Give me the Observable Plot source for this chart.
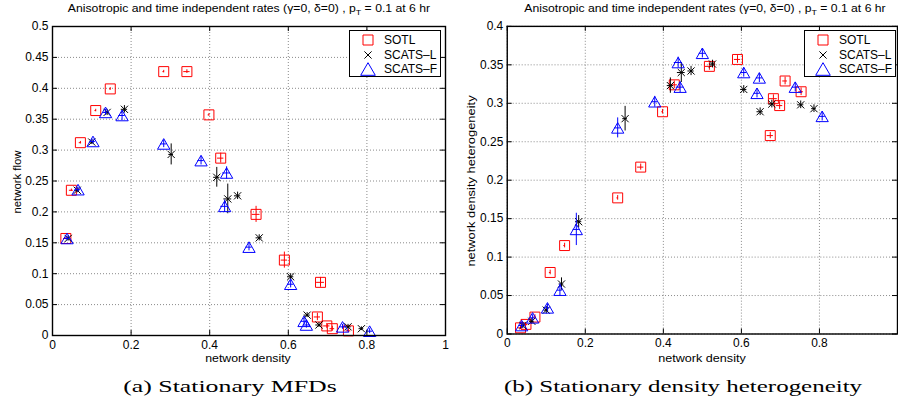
<!DOCTYPE html>
<html>
<head>
<meta charset="utf-8">
<script src="https://cdn.jsdelivr.net/npm/d3@7"></script>
<script src="https://cdn.jsdelivr.net/npm/@observablehq/plot@0.6"></script>
<style>
  html, body { margin: 0; padding: 0; background: #fff; }
  body { width: 898px; height: 411px; overflow: hidden; position: relative; font-family: "Liberation Sans", Arial, Helvetica, sans-serif; }
  .panel { position: absolute; top: 0; }
  .txt { position: absolute; white-space: nowrap; color: #000; line-height: 1; }
  .title { font-size: 11px; }
  .xlab { font-size: 11px; }
  .ylab { font-size: 11px; }
  .cap { font-family: "Liberation Serif", "DejaVu Serif", serif; font-size: 17px; }
  .legend { position: absolute; border: 1px solid #000; background: #fff; font-size: 12px; box-sizing: border-box; }
  .legend .row { position: absolute; left: 0; height: 14px; line-height: 14px; }
  .legend svg { position: absolute; top: -3px; }
  .legend span { position: absolute; }
  sub { font-size: 8px; vertical-align: -3px; line-height: 0; }
</style>
</head>
<body>
<div id="left" class="panel" style="left:0px"></div>
<div id="right" class="panel" style="left:449px"></div>
<script>
// ---------- tick labels ----------
const xTicks = [0, 0.2, 0.4, 0.6, 0.8, 1];
const flowTicks = [0, 0.05, 0.1, 0.15, 0.2, 0.25, 0.3, 0.35, 0.4, 0.45, 0.5];
const hetTicks = [0, 0.05, 0.1, 0.15, 0.2, 0.25, 0.3, 0.35, 0.4];

// ---------- series names ----------
const seriesNames = ["SOTL", "SCATS\u2013L", "SCATS\u2013F"];

// ---------- SOTL ----------
const sotlDensity    = [0.034, 0.048, 0.071, 0.110, 0.147, 0.283, 0.342, 0.398, 0.428, 0.518, 0.590, 0.674, 0.682, 0.698, 0.712, 0.753];
const sotlFlow       = [0.157, 0.235, 0.312, 0.364, 0.399, 0.427, 0.427, 0.357, 0.287, 0.196, 0.122, 0.030, 0.086, 0.0155, 0.011, 0.0075];
const sotlHet        = [0.008, 0.0125, 0.022, 0.080, 0.115, 0.177, 0.217, 0.289, 0.324, 0.348, 0.357, 0.258, 0.306, 0.297, 0.329, 0.315];
const sotlDensityErr = [0.006, 0.005, 0.003, 0.002, 0.002, 0.002, 0.008, 0.002, 0.008, 0.010, 0.008, 0.008, 0.010, 0.008, 0.006, 0.006];
const sotlFlowErr    = [0.002, 0.002, 0.002, 0.002, 0.002, 0.002, 0.003, 0.002, 0.008, 0.013, 0.013, 0.006, 0.008, 0.004, 0.004, 0.003];
const sotlHetErr     = [0.002, 0.002, 0.003, 0.003, 0.003, 0.003, 0.004, 0.003, 0.005, 0.005, 0.005, 0.004, 0.005, 0.005, 0.005, 0.005];

// ---------- SCATS-L ----------
const scatsLDensity    = [0.040, 0.063, 0.100, 0.139, 0.183, 0.302, 0.418, 0.446, 0.471, 0.526, 0.606, 0.648, 0.678, 0.752, 0.786];
const scatsLFlow       = [0.157, 0.235, 0.313, 0.361, 0.366, 0.293, 0.256, 0.221, 0.226, 0.158, 0.095, 0.033, 0.017, 0.014, 0.011];
const scatsLHet        = [0.011, 0.0165, 0.031, 0.065, 0.146, 0.280, 0.323, 0.340, 0.342, 0.351, 0.318, 0.289, 0.299, 0.298, 0.293];
const scatsLDensityErr = [0.005, 0.006, 0.006, 0.006, 0.008, 0.006, 0.008, 0.010, 0.008, 0.008, 0.008, 0.008, 0.008, 0.008, 0.006];
const scatsLFlowErr    = [0.004, 0.004, 0.004, 0.005, 0.006, 0.017, 0.016, 0.024, 0.006, 0.005, 0.005, 0.004, 0.004, 0.004, 0.003];
const scatsLHetErr     = [0.004, 0.004, 0.005, 0.008, 0.008, 0.016, 0.010, 0.013, 0.006, 0.005, 0.005, 0.005, 0.005, 0.005, 0.005];

// ---------- SCATS-F ----------
const scatsFDensity    = [0.037, 0.065, 0.103, 0.135, 0.177, 0.283, 0.378, 0.438, 0.443, 0.500, 0.606, 0.640, 0.646, 0.738, 0.807];
const scatsFFlow       = [0.157, 0.236, 0.314, 0.361, 0.356, 0.310, 0.283, 0.209, 0.263, 0.143, 0.083, 0.023, 0.017, 0.014, 0.007];
const scatsFHet        = [0.011, 0.021, 0.034, 0.057, 0.136, 0.268, 0.302, 0.353, 0.321, 0.365, 0.340, 0.313, 0.333, 0.321, 0.283];
const scatsFDensityErr = [0.006, 0.006, 0.006, 0.006, 0.008, 0.008, 0.008, 0.010, 0.010, 0.008, 0.008, 0.008, 0.008, 0.008, 0.008];
const scatsFFlowErr    = [0.004, 0.004, 0.004, 0.005, 0.008, 0.006, 0.007, 0.010, 0.010, 0.006, 0.006, 0.005, 0.005, 0.004, 0.004];
const scatsFHetErr     = [0.004, 0.004, 0.005, 0.008, 0.021, 0.013, 0.007, 0.007, 0.007, 0.006, 0.006, 0.006, 0.006, 0.006, 0.006];

// ---------- build tables ----------
function table(dens, flow, het, dErr, fErr, hErr) {
  return dens.map((d, i) => ({x: d, flow: flow[i], het: het[i], ex: dErr[i], ef: fErr[i], eh: hErr[i]}));
}
const sotl = table(sotlDensity, sotlFlow, sotlHet, sotlDensityErr, sotlFlowErr, sotlHetErr);
const scatsL = table(scatsLDensity, scatsLFlow, scatsLHet, scatsLDensityErr, scatsLFlowErr, scatsLHetErr);
const scatsF = table(scatsFDensity, scatsFFlow, scatsFHet, scatsFDensityErr, scatsFFlowErr, scatsFHetErr);

// ---------- Matlab-like marker symbols ----------
const squareSym = {draw(ctx, size) { const r = Math.sqrt(size / Math.PI); ctx.moveTo(-r, -r); ctx.lineTo(r, -r); ctx.lineTo(r, r); ctx.lineTo(-r, r); ctx.closePath(); }};
const triSym = {draw(ctx, size) { const r = Math.sqrt(size / Math.PI); ctx.moveTo(0, -r); ctx.lineTo(r * 1.16, r); ctx.lineTo(-r * 1.16, r); ctx.closePath(); }};
const timesSym = {draw(ctx, size) { const r = Math.sqrt(size / Math.PI); ctx.moveTo(-r, -r); ctx.lineTo(r, r); ctx.moveTo(r, -r); ctx.lineTo(-r, r); }};

const series = [
  {data: sotl, color: "#ff0000", sym: squareSym, r: 5},
  {data: scatsL, color: "#000000", sym: timesSym, r: 3.6},
  {data: scatsF, color: "#0000ff", sym: triSym, r: 5.3}
];

function panel(yKey, eKey, yTicks, yMax, xFmt, opts) {
  const {width, height, ml, mr, mt, mb} = opts;
  const fw = width - ml - mr, fh = height - mt - mb;
  const marks = [
    Plot.gridX(xTicks, {stroke: "#8a8a8a", strokeOpacity: 1, strokeDasharray: "1,2", strokeWidth: 1}),
    Plot.gridY(yTicks, {stroke: "#8a8a8a", strokeOpacity: 1, strokeDasharray: "1,2", strokeWidth: 1})
  ];
  for (const s of series) {
    marks.push(
      Plot.ruleX(s.data, {x: "x", y1: d => d[yKey] - d[eKey], y2: d => d[yKey] + d[eKey], stroke: s.color, strokeWidth: 1}),
      Plot.ruleY(s.data, {y: yKey, x1: d => d.x - d.ex, x2: d => d.x + d.ex, stroke: s.color, strokeWidth: 1}),
      Plot.dot(s.data, {x: "x", y: yKey, r: s.r, symbol: s.sym, stroke: s.color, fill: "none", strokeWidth: 1})
    );
  }
  marks.push(
    Plot.tickX(xTicks, {x: d => d, insetTop: fh - 5, stroke: "#000"}),
    Plot.tickX(xTicks, {x: d => d, insetBottom: fh - 5, stroke: "#000"}),
    Plot.tickY(yTicks, {y: d => d, insetRight: fw - 5, stroke: "#000"}),
    Plot.tickY(yTicks, {y: d => d, insetLeft: fw - 5, stroke: "#000"}),
    Plot.frame({stroke: "#000", strokeWidth: 1.4}),
    Plot.axisX(xTicks, {tickSize: 0, tickPadding: 5, tickFormat: xFmt, label: null}),
    Plot.axisY(yTicks, {tickSize: 0, tickPadding: 4, tickFormat: d => String(d), label: null})
  );
  return Plot.plot({
    width, height,
    marginLeft: ml, marginRight: mr, marginTop: mt, marginBottom: mb,
    x: {domain: [0, 1]},
    y: {domain: [0, yMax]},
    style: {fontFamily: "'Liberation Sans', Arial, Helvetica, sans-serif", fontSize: "12px", color: "#000", background: "transparent", overflow: "visible"},
    marks
  });
}

document.getElementById("left").appendChild(panel("flow", "ef", flowTicks, 0.5, d => String(d), {width: 449, height: 370, ml: 52, mr: 4, mt: 26, mb: 35}));
// the right panel's last x tick label falls outside the picture, as in the original
document.getElementById("right").appendChild(panel("het", "eh", hetTicks, 0.4, d => (d === 1 ? "" : String(d)), {width: 451, height: 370, ml: 58, mr: 1, mt: 26, mb: 35}));

// ---------- text (fitted to the widths seen in the original) ----------
const titleHTML = "Anisotropic and time independent rates (\u03b3=0, \u03b4=0) , p<sub>T</sub> = 0.1 at 6 hr";
function addText(cls, html, x, y, target, rotate) {
  const el = document.createElement("div");
  el.className = "txt " + cls;
  el.innerHTML = html;
  el.style.left = x + "px";
  el.style.top = y + "px";
  document.body.appendChild(el);
  const w = el.offsetWidth;
  const s = target / w;
  el.style.transform = "translate(-50%, -50%)" + (rotate ? " rotate(-90deg)" : "") + " scaleX(" + s + ")";
}
addText("title", titleHTML, 249, 8, 362);
addText("title", titleHTML, 704.5, 8, 361);
addText("xlab", "network density", 247.5, 358, 85);
addText("xlab", "network density", 702, 358, 87);
addText("ylab", "network flow", 16.5, 181.5, 63, true);
addText("ylab", "network density heterogeneity", 470.5, 180.5, 171, true);
addText("cap", "(a) Stationary MFDs", 230, 386, 214);
addText("cap", "(b) Stationary density heterogeneity", 683, 386, 358);

// ---------- legends ----------
function legend(left, top) {
  const box = document.createElement("div");
  box.className = "legend";
  box.style.left = left + "px";
  box.style.top = top + "px";
  box.style.width = "92px";
  box.style.height = "47px";
  const rowsY = [2, 17, 31];
  series.forEach((s, i) => {
    const row = document.createElement("div");
    row.className = "row";
    row.style.top = rowsY[i] + "px";
    row.style.width = "100%";
    const svg = d3.create("svg").attr("width", 20).attr("height", 20).style("left", "8px");
    const size = Math.PI * (s.r + (i === 2 ? 1 : 0)) ** 2;
    svg.append("path").attr("transform", "translate(10,10)")
      .attr("d", d3.symbol(s.sym, size)())
      .attr("fill", "none").attr("stroke", s.color).attr("stroke-width", 1);
    row.appendChild(svg.node());
    const sp = document.createElement("span");
    sp.style.left = "34px";
    sp.textContent = seriesNames[i];
    row.appendChild(sp);
    box.appendChild(row);
  });
  document.body.appendChild(box);
}
legend(349, 30);
legend(804, 30);
</script>
</body>
</html>
